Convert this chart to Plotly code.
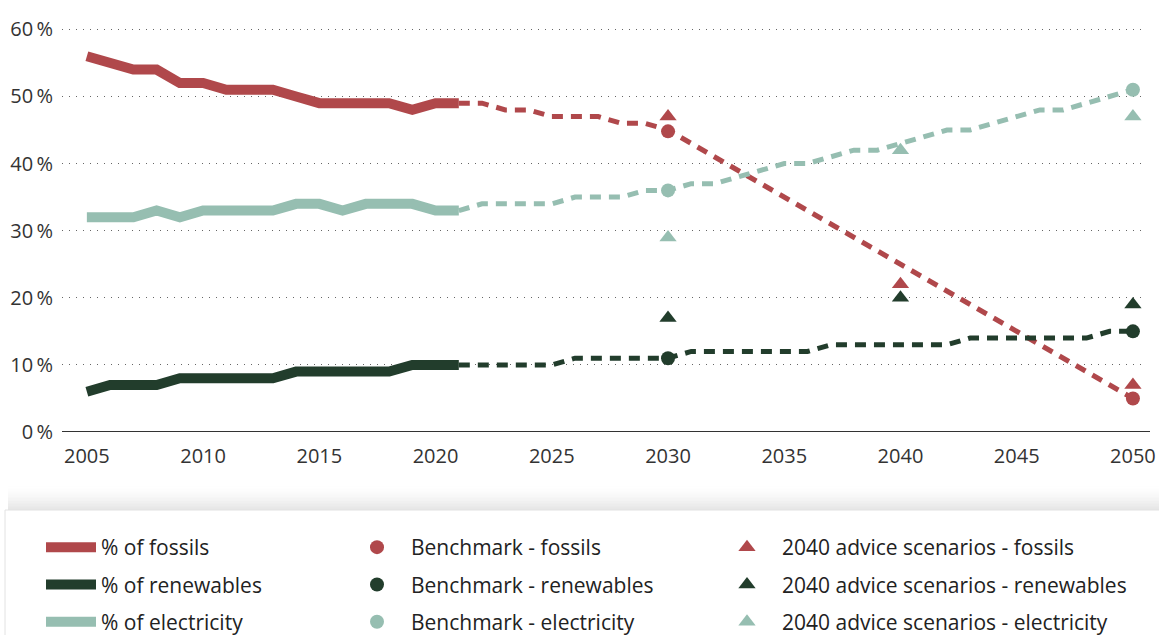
import plotly.graph_objects as go

# ---------------- data ----------------
hist_years = list(range(2005, 2022))
fossils_hist = [56, 55, 54, 54, 52, 52, 51, 51, 51, 50, 49, 49, 49, 49, 48, 49, 49]
renew_hist = [6, 7, 7, 7, 8, 8, 8, 8, 8, 9, 9, 9, 9, 9, 10, 10, 10]
elec_hist = [32, 32, 32, 33, 32, 33, 33, 33, 33, 34, 34, 33, 34, 34, 34, 33, 33]

proj_years = list(range(2021, 2051))
fossils_proj = [49, 49, 48, 48, 47, 47, 47, 46, 46, 45,
                43, 41, 39, 37, 35, 33, 31, 29, 27, 25,
                23, 21, 19, 17, 15, 13, 11, 9, 7, 5]
renew_proj = [10, 10, 10, 10, 10, 11, 11, 11, 11, 11,
              12, 12, 12, 12, 12, 12, 13, 13, 13, 13,
              13, 13, 14, 14, 14, 14, 14, 14, 15, 15]
elec_proj = [33, 34, 34, 34, 34, 35, 35, 35, 36, 36,
             37, 37, 38, 39, 40, 40, 41, 42, 42, 43,
             44, 45, 45, 46, 47, 48, 48, 49, 50, 51]

bench_years = [2030, 2050]
bench_fossils = [44.8, 5]
bench_renew = [11, 15]
bench_elec = [36, 51]

scen_years = [2030, 2040, 2050]
scen_fossils = [47, 22, 7]
scen_renew = [17, 20, 19]
scen_elec = [29, 42, 47]

x_ticks = [2005, 2010, 2015, 2020, 2025, 2030, 2035, 2040, 2045, 2050]
y_ticks = [0, 10, 20, 30, 40, 50, 60]

# ---------------- style ----------------
RED = "#B0484B"
DARK = "#223D2C"
LIGHT = "#96BEB1"
FONT = "Open Sans"

W, H = 1159, 635
ML, MR, MT, MB = 62, 17, 26, 203

fig = go.Figure()

series = [
    ("fossils", RED, fossils_hist, fossils_proj, bench_fossils, scen_fossils),
    ("renewables", DARK, renew_hist, renew_proj, bench_renew, scen_renew),
    ("electricity", LIGHT, elec_hist, elec_proj, bench_elec, scen_elec),
]

# dashed projections
for name, col, hist, proj, b, s in series:
    fig.add_trace(go.Scatter(x=proj_years, y=proj, mode="lines",
                             line=dict(color=col, width=5, dash="11px,8px"),
                             legendgroup="l_" + name, showlegend=False,
                             hoverinfo="skip"))

# solid historical lines
for name, col, hist, proj, b, s in series:
    fig.add_trace(go.Scatter(x=hist_years, y=hist, mode="lines",
                             line=dict(color=col, width=10),
                             name="% of " + name, legend="legend",
                             legendgroup="l_" + name))

# scenario triangles
for name, col, hist, proj, b, s in series:
    fig.add_trace(go.Scatter(x=scen_years, y=s, mode="markers",
                             marker=dict(symbol="triangle-up", size=15, color=col),
                             name="2040 advice scenarios - " + name,
                             legend="legend3", legendgroup="s_" + name))

# benchmark circles
for name, col, hist, proj, b, s in series:
    fig.add_trace(go.Scatter(x=bench_years, y=b, mode="markers",
                             marker=dict(symbol="circle", size=14, color=col),
                             name="Benchmark - " + name,
                             legend="legend2", legendgroup="b_" + name))

# helpers to convert pixels to paper coords
PW = W - ML - MR
PH = H - MT - MB


def px_x(p):
    return (p - ML) / PW


def px_y(p):
    return (H - MB - p) / PH


shapes = []
# shadow above legend box
n = 16
for i in range(n):
    y0 = 510 - (i + 1) * 1.5
    y1 = 510 - i * 1.5
    op = 0.10 * (1 - i / n) ** 1.5
    shapes.append(dict(type="rect", xref="paper", yref="paper",
                       x0=px_x(8), x1=px_x(1159), y0=px_y(y1), y1=px_y(y0),
                       line=dict(width=0), fillcolor="rgba(0,0,0,%.3f)" % op,
                       layer="below"))
# legend box
shapes.append(dict(type="rect", xref="paper", yref="paper",
                   x0=px_x(5), x1=px_x(1162), y0=px_y(640), y1=px_y(510),
                   line=dict(width=1, color="#E2E2E2"), fillcolor="white",
                   layer="below"))
# x axis baseline
shapes.append(dict(type="line", xref="paper", yref="y",
                   x0=0, x1=px_x(1150), y0=0, y1=0,
                   line=dict(color="#333333", width=2)))

leg_common = dict(font=dict(family=FONT, size=21, color="#222222"),
                  xref="container", yref="container",
                  xanchor="left", yanchor="top",
                  bgcolor="rgba(0,0,0,0)", tracegroupgap=7,
                  orientation="v")

fig.update_layout(
    width=W, height=H,
    margin=dict(l=ML, r=MR, t=MT, b=MB, autoexpand=False),
    paper_bgcolor="white", plot_bgcolor="white",
    font=dict(family=FONT, color="#333333"),
    shapes=shapes,
    showlegend=True,
    legend=dict(x=41 / W, y=1 - 527 / H, itemwidth=50, **leg_common),
    legend2=dict(x=343 / W, y=1 - 527 / H, itemwidth=58, **leg_common),
    legend3=dict(x=712 / W, y=1 - 527 / H, itemwidth=60, **leg_common),
    hovermode=False,
)

fig.update_xaxes(range=[2003.93, 2050.39], tickvals=x_ticks,
                 ticktext=[str(v) for v in x_ticks],
                 showgrid=False, zeroline=False, showline=False,
                 ticks="", ticklabelstandoff=10,
                 tickfont=dict(family=FONT, size=20, color="#333333"))

fig.update_yaxes(range=[0, 60.5], tickvals=y_ticks,
                 ticktext=["%d\u2009%%" % v for v in y_ticks],
                 showgrid=True, gridcolor="#666666", gridwidth=1,
                 griddash="1px,6px", zeroline=False, showline=False,
                 ticks="", ticklabelstandoff=8,
                 tickfont=dict(family=FONT, size=20, color="#333333"))

fig.write_html("out.html",
               config={"displayModeBar": False},
               post_script="document.body.style.margin='0';document.body.style.padding='0';")
